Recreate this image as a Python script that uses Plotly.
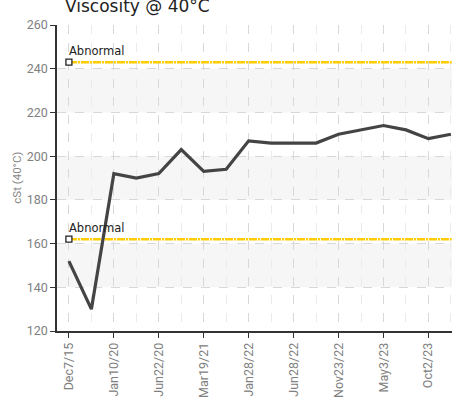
import plotly.graph_objects as go

# ---- data ----
viscosity = [152, 130, 192, 190, 192, 203, 193, 194, 207, 206, 206, 206, 210, 212, 214, 212, 208, 210]
tick_labels = ["Dec7/15", "Jan10/20", "Jun22/20", "Mar19/21", "Jan28/22",
               "Jun28/22", "Nov23/22", "May3/23", "Oct2/23"]
abnormal_upper = 243
abnormal_lower = 162
band_ranges = [(140, 160), (180, 200), (220, 240)]

x_idx = list(range(len(viscosity)))
tick_idx = x_idx[::2][:len(tick_labels)]

fig = go.Figure()

for lvl in [abnormal_upper, abnormal_lower]:
    fig.add_trace(go.Scatter(
        x=[x_idx[0], x_idx[-1] + 0.04], y=[lvl, lvl], mode="lines",
        line=dict(color="#FFCC00", width=2.5, dash="8px,1px,2px,1px"),
        hoverinfo="skip", showlegend=False))
    fig.add_trace(go.Scatter(
        x=[x_idx[0]], y=[lvl], mode="markers",
        marker=dict(symbol="square", size=6, color="white",
                    line=dict(color="#222", width=1.3)),
        hoverinfo="skip", showlegend=False))
    fig.add_annotation(x=x_idx[0], y=lvl, text="Abnormal", showarrow=False,
                       xanchor="left", yanchor="bottom", xshift=-2, yshift=2,
                       font=dict(family="DejaVu Sans", size=11.5, color="#222"))

fig.add_trace(go.Scatter(
    x=x_idx, y=viscosity, mode="lines",
    line=dict(color="#444444", width=3.2),
    showlegend=False))

for lo, hi in band_ranges:
    fig.add_shape(type="rect", xref="x domain", yref="y", x0=0, x1=1, y0=lo, y1=hi,
                  fillcolor="#F6F6F6", line=dict(width=0), layer="below")

fig.add_annotation(xref="paper", yref="paper", x=0.015, y=1.022,
                   text="Viscosity @ 40°C", showarrow=False,
                   xanchor="left", yanchor="bottom",
                   font=dict(family="DejaVu Sans", size=17, color="#222"))

fig.add_annotation(xref="paper", yref="paper", x=-0.102, y=0.5,
                   text="cSt (40°C)", showarrow=False, textangle=-90,
                   xanchor="center", yanchor="middle",
                   font=dict(family="Roboto", size=11.5, color="#888"))

fig.update_layout(
    width=457, height=413,
    margin=dict(l=57, r=5, t=25, b=82),
    paper_bgcolor="white", plot_bgcolor="white",
    font=dict(family="Roboto", color="#888"),
    xaxis=dict(
        range=[-0.53, 17.05], automargin=False,
        tickmode="array", tickvals=tick_idx, ticktext=tick_labels,
        tickangle=-90, tickfont=dict(size=12.5, color="#808080"),
        showline=True, linecolor="#333", linewidth=1.5,
        ticks="outside", ticklen=5, tickcolor="#333",
        showgrid=True, gridcolor="#D8D8D8", griddash="dash", gridwidth=1,
        minor=dict(dtick=1, tick0=0, showgrid=True, gridcolor="#EBEBEB",
                   griddash="dash", ticks=""),
        zeroline=False, fixedrange=True,
    ),
    yaxis=dict(
        range=[120, 260], dtick=20, automargin=False,
        tickfont=dict(size=12.5, color="#808080"),
        showline=True, linecolor="#333", linewidth=1.5,
        ticks="outside", ticklen=5, tickcolor="#333",
        showgrid=True, gridcolor="#D8D8D8", griddash="dash", gridwidth=1,
        zeroline=False,
    ),
)

fig.write_html(
    "out.html",
    config={"responsive": False, "displayModeBar": False},
    post_script="document.body.style.margin='0';document.body.style.overflow='hidden';",
)
